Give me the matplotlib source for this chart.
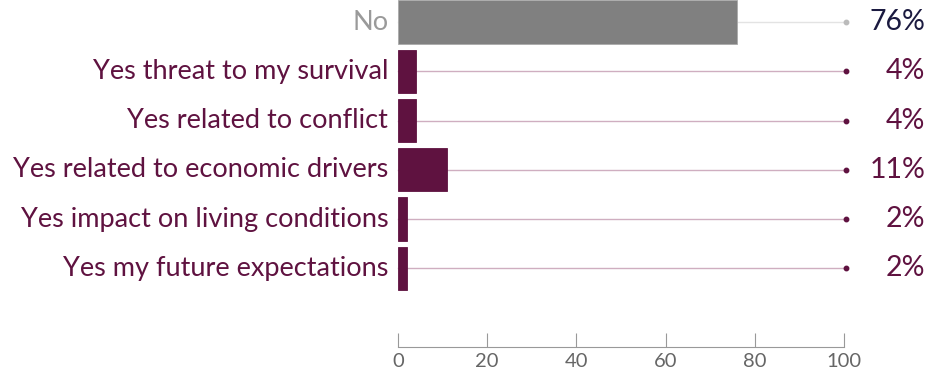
import matplotlib.pyplot as plt

categories = ["No", "Yes threat to my survival", "Yes related to conflict",
              "Yes related to economic drivers", "Yes impact on living conditions",
              "Yes my future expectations"]
values = [76, 4, 4, 11, 2, 2]
labels = ["76%", "4%", "4%", "11%", "2%", "2%"]

plt.rcParams['font.family'] = ['Lato', 'DejaVu Sans']

fig = plt.figure(figsize=(9.32, 3.78), dpi=100)
ax = fig.add_axes([398 / 932, 1 - 347 / 378, (844 - 398) / 932, 347 / 378])

maroon = "#5f1240"
for i, (cat, v, lab) in enumerate(zip(categories, values, labels)):
    is_no = i == 0
    bar_col = "#808080" if is_no else maroon
    line_col = "#e3e3e3" if is_no else "#cfaec0"
    dot_col = "#bbbbbb" if is_no else maroon
    ax.plot([0, 100.5], [i, i], color=line_col, lw=1.0, zorder=1, clip_on=False)
    ax.plot([100.5], [i], 'o', color=dot_col, ms=3.2, zorder=2, clip_on=False)
    ax.barh(i, v, height=0.88, color=bar_col, zorder=3,
            edgecolor="#aaaaaa" if is_no else bar_col, lw=0.6)
    ax.text(-2.2, i, cat, ha='right', va='center', fontsize=19.5,
            color="#9a9a9a" if is_no else maroon)
    ax.text(118.2, i, lab, ha='right', va='center', fontsize=20.5,
            color="#1b1a40" if is_no else maroon)

ax.set_xlim(0, 100)
ax.set_ylim(6.6, -0.45)
ax.set_yticks([])
for s in ['top', 'right', 'left']:
    ax.spines[s].set_visible(False)
ax.spines['bottom'].set_color("#999999")
ax.set_xticks([0, 20, 40, 60, 80, 100])
ax.tick_params(axis='x', direction='in', length=10, color="#999999",
               labelsize=14.5, labelcolor="#666666", pad=4)

fig.savefig("out.png", dpi=100)
